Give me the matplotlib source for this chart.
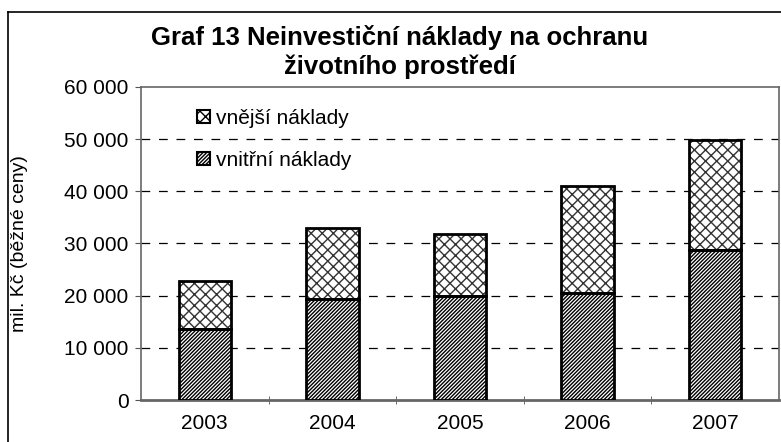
import matplotlib
matplotlib.use("Agg")
import matplotlib.pyplot as plt
from matplotlib.lines import Line2D
from matplotlib.patches import Patch

plt.rcParams["font.family"] = ["Liberation Sans", "DejaVu Sans"]
plt.rcParams["hatch.linewidth"] = 1.0

years = ["2003", "2004", "2005", "2006", "2007"]
internal = [13600, 19450, 19900, 20550, 28700]
external = [9250, 13450, 11900, 20550, 21100]
yticks = [0, 10000, 20000, 30000, 40000, 50000, 60000]

HATCH_IN = "/////////"
HATCH_EX = "xxx"

fig = plt.figure(figsize=(7.81, 4.42), dpi=100)
ax = fig.add_axes([141 / 781, 1 - 400 / 442, 638 / 781, 313 / 442])

x = list(range(len(years)))
# hatched fills, then black outlines on top
ax.bar(x, internal, width=0.41, color="white", edgecolor="black",
       hatch=HATCH_IN, linewidth=0, zorder=3)
ax.bar(x, external, width=0.41, bottom=internal, color="white",
       edgecolor="#333333", hatch=HATCH_EX, linewidth=0, zorder=3)
ax.bar(x, internal, width=0.41, fill=False, edgecolor="black",
       linewidth=2, zorder=4)
ax.bar(x, external, width=0.41, bottom=internal, fill=False,
       edgecolor="black", linewidth=2, zorder=4)

ax.set_xlim(-0.5, len(years) - 0.5)
ax.set_ylim(0, 60000)
ax.set_yticks(yticks)
ax.set_yticklabels([f"{v:,}".replace(",", " ") for v in yticks], fontsize=15)
ax.set_xticks(x)
ax.set_xticklabels(years, fontsize=15)
ax.set_xticks([i + 0.5 for i in x[:-1]], minor=True)
ax.tick_params(axis="x", which="major", length=0, pad=10)
ax.tick_params(axis="x", which="minor", length=6, direction="inout", color="#555555")
ax.tick_params(axis="y", length=4, direction="out", color="#555555", pad=5)

for v in yticks[1:-1]:
    ax.axhline(v, color="black", linestyle=(0, (7, 7)), linewidth=0.9, zorder=1)

for side in ["left", "bottom", "right", "top"]:
    ax.spines[side].set_color("#666666")
    ax.spines[side].set_linewidth(1.2)
ax.spines["bottom"].set_linewidth(2)

ax.set_ylabel("mil. Kč (běžné ceny)", fontsize=14)
ax.yaxis.set_label_coords(-0.177, 0.5)

handles = [
    Patch(facecolor="white", edgecolor="black", hatch=HATCH_EX, linewidth=1.5,
          label="vnější náklady"),
    Patch(facecolor="white", edgecolor="black", hatch=HATCH_IN, linewidth=1.5,
          label="vnitřní náklady"),
]
ax.legend(handles=handles, loc="upper left", bbox_to_anchor=(0.088, 0.93),
          frameon=False, fontsize=15, handlelength=0.6, handleheight=0.6,
          handletextpad=0.3, labelspacing=1.1, borderpad=0, borderaxespad=0)

fig.text(400 / 781, 1 - 52 / 442,
         "Graf 13 Neinvestiční náklady na ochranu\nživotního prostředí",
         ha="center", va="center", fontsize=18.5, fontweight="bold",
         linespacing=1.2)

# outer chart border
fig.add_artist(Line2D([8 / 781, 8 / 781], [1 - 12 / 442, 0], color="black", lw=1.2))
fig.add_artist(Line2D([8 / 781, 1], [1 - 12 / 442, 1 - 12 / 442], color="black", lw=1.2))

fig.savefig("out.png", dpi=100)
